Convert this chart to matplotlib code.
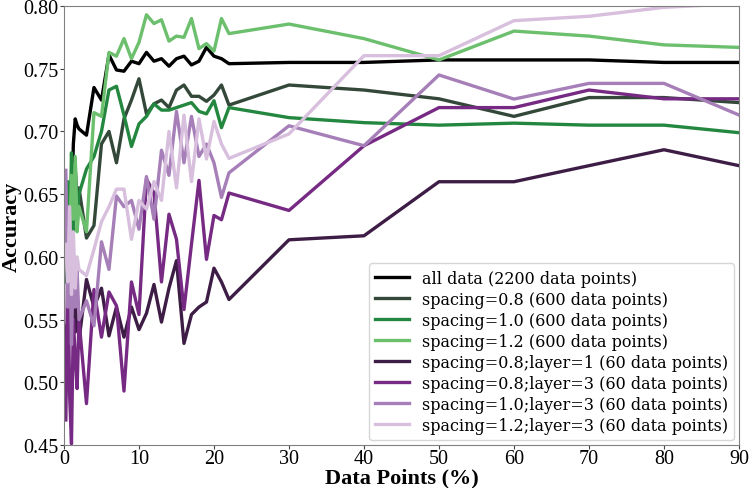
import numpy as np
import matplotlib
matplotlib.use("Agg")
import matplotlib.pyplot as plt
from matplotlib import font_manager as fm

x_pct = [0.25, 0.5, 0.75, 1, 1.25, 1.5, 1.75, 2, 3, 4, 5, 6, 7, 8, 9, 10, 11, 12, 13, 14, 15,
         16, 17, 18, 19, 20, 21, 22, 30, 40, 50, 60, 70, 80, 90]

all_data = [np.nan, 0.60, 0.62, 0.63, 0.69, 0.71, 0.705, 0.702, 0.697, 0.735, 0.725, 0.761, 0.749,
            0.748, 0.756, 0.754, 0.763, 0.756, 0.758, 0.752, 0.758, 0.760, 0.753, 0.756, 0.767,
            0.760, 0.758, 0.754, 0.755, 0.755, 0.757, 0.757, 0.757, 0.755, 0.755]
sp08 = [0.60, 0.64, 0.62, 0.66, 0.63, 0.67, 0.64, 0.655, 0.615, 0.625, 0.69, 0.70, 0.675, 0.71,
        0.725, 0.742, 0.714, 0.722, 0.725, 0.719, 0.733, 0.737, 0.728, 0.728, 0.724, 0.729,
        0.737, 0.721, 0.737, 0.733, 0.726, 0.712, 0.727, 0.727, 0.723]
sp10 = [0.58, 0.66, 0.60, 0.683, 0.62, 0.675, 0.63, 0.65, 0.67, 0.68, 0.70, 0.733, 0.736, 0.713,
        0.688, 0.706, 0.712, 0.722, 0.717, 0.717, 0.719, 0.721, 0.723, 0.716, 0.714, 0.7245,
        0.703, 0.719, 0.711, 0.707, 0.705, 0.7066, 0.705, 0.705, 0.699]
sp12 = [0.59, 0.64, 0.61, 0.665, 0.63, 0.68, 0.62, 0.64, 0.62, 0.715, 0.712, 0.763, 0.760, 0.774,
        0.758, 0.771, 0.793, 0.786, 0.789, 0.772, 0.776, 0.775, 0.790, 0.766, 0.770, 0.764,
        0.790, 0.778, 0.7856, 0.774, 0.757, 0.780, 0.776, 0.769, 0.767]
sp08_l1 = [0.545, 0.52, 0.58, 0.55, 0.575, 0.54, 0.57, 0.533, 0.582, 0.56, 0.575, 0.537, 0.56,
           0.536, 0.56, 0.542, 0.555, 0.578, 0.548, 0.575, 0.597, 0.531, 0.554, 0.56, 0.564,
           0.591, 0.58, 0.566, 0.6136, 0.6168, 0.6599, 0.6599, 0.6727, 0.6854, 0.6727]
sp08_l3 = [0.47, 0.60, 0.49, 0.451, 0.55, 0.52, 0.495, 0.55, 0.483, 0.574, 0.536, 0.572, 0.561,
           0.493, 0.580, 0.554, 0.662, 0.651, 0.58, 0.634, 0.614, 0.558, 0.61, 0.661, 0.598,
           0.633, 0.6296, 0.6509, 0.637, 0.6886, 0.719, 0.719, 0.733, 0.726, 0.726]
sp10_l3 = [0.669, 0.56, 0.625, 0.53, 0.60, 0.56, 0.59, 0.55, 0.565, 0.545, 0.612, 0.59, 0.6485,
           0.64, 0.645, 0.622, 0.664, 0.63, 0.685, 0.665, 0.716, 0.675, 0.712, 0.68, 0.69,
           0.675, 0.6474, 0.667, 0.7045, 0.6886, 0.745, 0.7258, 0.7383, 0.7383, 0.7131]
sp12_l3 = [0.61, 0.58, 0.64, 0.57, 0.62, 0.575, 0.60, 0.59, 0.585, 0.606, 0.628, 0.64, 0.654,
           0.654, 0.614, 0.645, 0.638, 0.66, 0.645, 0.70, 0.655, 0.713, 0.66, 0.71, 0.678,
           0.708, 0.69, 0.6785, 0.698, 0.7604, 0.7604, 0.7883, 0.7918, 0.7989, 0.802]

labels = ["all data (2200 data points)",
          "spacing=0.8 (600 data points)",
          "spacing=1.0 (600 data points)",
          "spacing=1.2 (600 data points)",
          "spacing=0.8;layer=1 (60 data points)",
          "spacing=0.8;layer=3 (60 data points)",
          "spacing=1.0;layer=3 (60 data points)",
          "spacing=1.2;layer=3 (60 data points)"]
series = [all_data, sp08, sp10, sp12, sp08_l1, sp08_l3, sp10_l3, sp12_l3]
colors = ["#000000", "#34483a", "#24873f", "#6cbf6d", "#3d1d45", "#762a83", "#a67fb8", "#d7bfdd"]

xticks = [0, 10, 20, 30, 40, 50, 60, 70, 80, 90]
yticks = [0.45, 0.50, 0.55, 0.60, 0.65, 0.70, 0.75, 0.80]

tick_fp = fm.FontProperties(family="Liberation Serif", size=14.5)
lab_fp = fm.FontProperties(family="Liberation Serif", weight="bold", size=16)

fig = plt.figure(figsize=(7.5, 4.89), dpi=100)
ax = fig.add_axes([0.0853, 0.0879, 0.9, 0.8978])

for s, c, l in zip(series, colors, labels):
    ax.plot(x_pct, s, color=c, lw=2.4, label=l)

ax.set_xlim(0, 90)
ax.set_ylim(0.45, 0.80)
ax.set_xticks(xticks)
ax.set_yticks(yticks)
ax.set_xticklabels([str(t) for t in xticks])
ax.set_yticklabels([f"{t:.2f}" for t in yticks])
for lab in ax.get_xticklabels() + ax.get_yticklabels():
    lab.set_fontproperties(tick_fp)
for sp in ax.spines.values():
    sp.set_color("#808080")
ax.tick_params(length=3, color="#444444", pad=1)
ax.tick_params(axis="x", pad=0)

ax.set_xlabel("Data Points (%)", fontproperties=lab_fp, va="bottom")
ax.xaxis.set_label_coords(0.5, -0.0968)
ax.set_ylabel("Accuracy", fontproperties=lab_fp)
ax.yaxis.set_label_coords(-0.062, 0.5)

leg = ax.legend(loc="lower right", prop={"family": "DejaVu Serif", "size": 11.5},
                handlelength=2.1, borderaxespad=0.3, labelspacing=0.25)

fig.savefig("out.png", dpi=100)
